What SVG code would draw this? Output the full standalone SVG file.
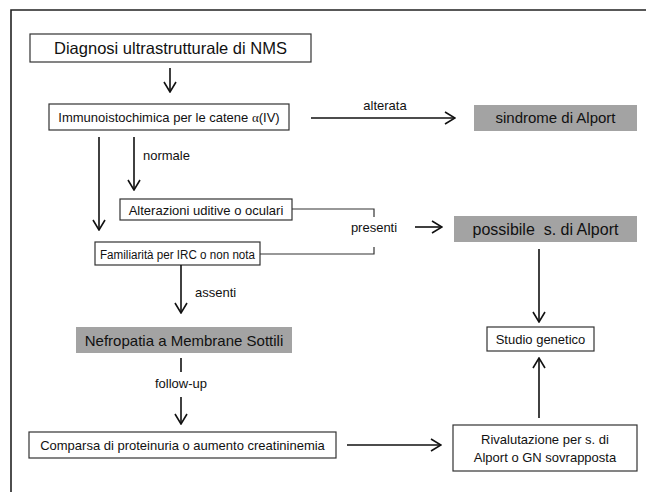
<svg xmlns="http://www.w3.org/2000/svg" width="646" height="492" viewBox="0 0 646 492">
<style>
  text { font-family: "Liberation Sans", Arial, sans-serif; fill: #111; }
  .box { fill: #fff; stroke: #333; stroke-width: 1.2; }
  .gray { fill: #a3a3a3; stroke: none; }
  .line { fill: none; stroke: #111; stroke-width: 1.6; }
  .thin { fill: none; stroke: #333; stroke-width: 1.2; }
  .lbl { font-size: 13px; }
</style>
<defs>
  <marker id="ah" viewBox="0 0 12 14" refX="11" refY="7" markerWidth="12" markerHeight="14" markerUnits="userSpaceOnUse" orient="auto">
    <path d="M1,1 L11,7 L1,13" fill="none" stroke="#111" stroke-width="1.6"/>
  </marker>
</defs>
<rect width="646" height="492" fill="#fff"/>
<path d="M11,492 V10 H646" fill="none" stroke="#222" stroke-width="1.6"/>

<g id="n1">
  <rect class="box" x="30" y="34" width="281" height="28"/>
  <text x="170.5" y="54" font-size="16.5" text-anchor="middle">Diagnosi ultrastrutturale di NMS</text>
</g>
<g id="n2">
  <rect class="box" x="49" y="104" width="240" height="26"/>
  <text x="169" y="122" font-size="13" text-anchor="middle">Immunoistochimica per le catene <tspan font-family="'Liberation Serif', serif">α</tspan>(IV)</text>
</g>
<g id="n3">
  <rect class="gray" x="474" y="105" width="163" height="26"/>
  <text x="555.5" y="123" font-size="15" text-anchor="middle">sindrome di Alport</text>
</g>
<g id="n4">
  <rect class="box" x="120" y="199" width="172" height="21"/>
  <text x="206" y="214.5" font-size="13" text-anchor="middle">Alterazioni uditive o oculari</text>
</g>
<g id="n5">
  <rect class="box" x="95" y="242" width="165" height="23"/>
  <text x="177.5" y="258.5" font-size="12.5" text-anchor="middle" textLength="155" lengthAdjust="spacingAndGlyphs">Familiarità per IRC o non nota</text>
</g>
<g id="n6">
  <rect class="gray" x="454" y="216" width="183" height="26"/>
  <text x="545.5" y="234.5" font-size="16" text-anchor="middle" xml:space="preserve">possibile  s. di Alport</text>
</g>
<g id="n7">
  <rect class="gray" x="76" y="327" width="216" height="26"/>
  <text x="184" y="346" font-size="15" text-anchor="middle">Nefropatia a Membrane Sottili</text>
</g>
<g id="n8">
  <rect class="box" x="487" y="327" width="107" height="24"/>
  <text x="540.5" y="343.5" font-size="13" text-anchor="middle">Studio genetico</text>
</g>
<g id="n9">
  <rect class="box" x="29" y="432" width="307" height="26"/>
  <text x="182.5" y="449.5" font-size="13" text-anchor="middle">Comparsa di proteinuria o aumento creatininemia</text>
</g>
<g id="n10">
  <rect class="box" x="453" y="425" width="184" height="46"/>
  <text x="545" y="444" font-size="13" text-anchor="middle">Rivalutazione per s. di</text>
  <text x="545" y="462" font-size="13" text-anchor="middle">Alport o GN sovrapposta</text>
</g>

<g id="connectors">
  <line class="line" x1="170" y1="68" x2="170" y2="92" marker-end="url(#ah)"/>
  <line class="line" x1="311" y1="118" x2="455" y2="118" marker-end="url(#ah)"/>
  <text class="lbl" x="385" y="110" text-anchor="middle">alterata</text>
  <line class="line" x1="99" y1="137" x2="99" y2="230" marker-end="url(#ah)"/>
  <line class="line" x1="134" y1="137" x2="134" y2="190" marker-end="url(#ah)"/>
  <text class="lbl" x="143" y="160">normale</text>
  <path class="thin" d="M292,209 H374 V217"/>
  <path class="thin" d="M260,254 H374 V247"/>
  <text class="lbl" x="374" y="232" text-anchor="middle">presenti</text>
  <line class="line" x1="415" y1="227" x2="442" y2="227" marker-end="url(#ah)"/>
  <line class="line" x1="181" y1="265" x2="181" y2="313" marker-end="url(#ah)"/>
  <text class="lbl" x="195" y="297">assenti</text>
  <line class="line" x1="181" y1="358" x2="181" y2="372"/>
  <text class="lbl" x="181" y="388" text-anchor="middle">follow-up</text>
  <line class="line" x1="181" y1="397" x2="181" y2="424" marker-end="url(#ah)"/>
  <line class="line" x1="539" y1="249" x2="539" y2="322" marker-end="url(#ah)"/>
  <line class="line" x1="539" y1="418" x2="539" y2="358" marker-end="url(#ah)"/>
  <line class="line" x1="347" y1="445" x2="441" y2="445" marker-end="url(#ah)"/>
</g>
</svg>
